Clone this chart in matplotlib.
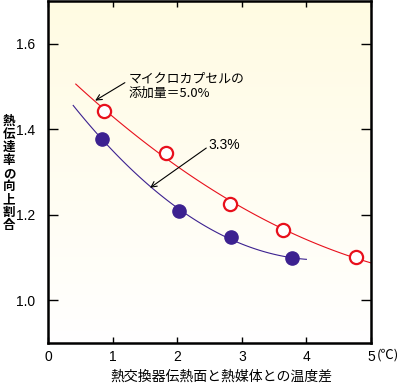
import numpy as np
import matplotlib
matplotlib.use("Agg")
import matplotlib.pyplot as plt

plt.rcParams['font.family'] = ['Liberation Sans', 'Noto Sans CJK JP', 'DejaVu Sans']

# measured points (temperature difference, improvement ratio)
x_50 = [0.87, 1.82, 2.82, 3.64, 4.77]
y_50 = [1.442, 1.344, 1.226, 1.165, 1.100]
x_33 = [0.84, 2.03, 2.83, 3.78]
y_33 = [1.377, 1.209, 1.147, 1.098]

# extent of the fitted curves
range_50 = [0.43, 5.0]
range_33 = [0.39, 4.0]

xticks = [0, 1, 2, 3, 4, 5]
yticks = [1.0, 1.2, 1.4, 1.6]

ylabel = "熱伝達率の向上割合"
xlabel = "熱交換器伝熱面と熱媒体との温度差"

red = "#e8101c"
purple = "#3c2190"

fig = plt.figure(figsize=(4, 3.85), dpi=100)
ax = fig.add_axes([48 / 400, 1 - 343 / 385, 323 / 400, 342 / 385])

# cream-to-white background
grad = np.linspace(0, 1, 256).reshape(-1, 1)
ax.imshow(grad, extent=[0, 1, 0, 1], transform=ax.transAxes, aspect="auto",
          cmap=matplotlib.colors.LinearSegmentedColormap.from_list("bg", ["#ffffff", "#fffbe2"]),
          origin="lower", zorder=0)

# fitted curves
for xs, ys, rng, c in [(x_50, y_50, range_50, red), (x_33, y_33, range_33, purple)]:
    p = np.polyfit(xs, ys, 2)
    xx = np.linspace(rng[0], rng[1], 100)
    ax.plot(xx, np.polyval(p, xx), color=c, lw=0.8, zorder=2)

ax.plot(x_50, y_50, "o", ms=9.5, mfc="white", mec=red, mew=1.6, zorder=3, clip_on=False)
ax.plot(x_33, y_33, "o", ms=9.5, mfc=purple, mec=purple, zorder=3)

ax.set_xlim(0, 5)
ax.set_ylim(0.9, 1.7)
ax.set_xticks(xticks)
ax.set_xticklabels([str(t) for t in xticks])
ax.set_yticks(yticks)
ax.set_yticklabels([f"{t:.1f}" for t in yticks])
ax.tick_params(axis="y", direction="in", length=7, width=1, left=True, right=True, labelsize=10, pad=9)
ax.tick_params(axis="x", direction="in", length=4.3, width=1, top=True, bottom=True, labelsize=10, pad=5)
for s in ax.spines.values():
    s.set_linewidth(1.8)

# annotations
ax.annotate("", xy=(0.73, 1.467), xytext=(1.19, 1.509),
            arrowprops=dict(arrowstyle="->", lw=0.8, color="black", shrinkA=0, shrinkB=0))
ax.text(1.25, 1.50, "マイクロカプセルの\n添加量＝5.0%", fontsize=9.3, ha="left", va="center",
        linespacing=1.15, family=['Noto Sans CJK JP'])
ax.annotate("", xy=(1.58, 1.263), xytext=(2.45, 1.356),
            arrowprops=dict(arrowstyle="->", lw=0.8, color="black", shrinkA=0, shrinkB=0))
ax.text(2.48, 1.363, "3.3%", fontsize=10, ha="left", va="center")

fig.text(377 / 400, 1 - 355 / 385, "(℃)", fontsize=9.5, ha="left", va="center",
         family=['Noto Sans CJK JP'])
fig.text(221 / 400, 1 - 377 / 385, xlabel, fontsize=10, ha="center", va="center",
         family=['Noto Sans CJK JP'])
fig.text(9 / 400, 1 - 173.5 / 385, "\n".join(ylabel), fontsize=9, ha="center", va="center",
         linespacing=1.0, family=['Noto Sans CJK JP'], weight="bold")

fig.savefig("out.png", dpi=100)
plt.close(fig)
